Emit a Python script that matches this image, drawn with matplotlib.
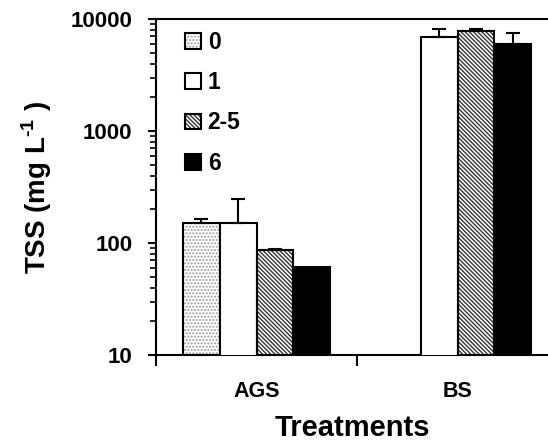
import numpy as np
import matplotlib
matplotlib.use('Agg')
import matplotlib.pyplot as plt
from matplotlib.patches import Patch
from matplotlib.legend_handler import HandlerTuple

plt.rcParams['font.family'] = ['Liberation Sans', 'DejaVu Sans']
plt.rcParams['font.weight'] = 'bold'
plt.rcParams['mathtext.fontset'] = 'custom'
plt.rcParams['mathtext.rm'] = 'Liberation Sans:bold'
plt.rcParams['mathtext.bf'] = 'Liberation Sans:bold'
plt.rcParams['hatch.linewidth'] = 1.0

# data
groups = ['AGS', 'BS']
series = ['0', '1', '2-5', '6']
ags_mean = [152, 152, 86.6, 61.5]
ags_err = [12, 95, 1.5, 0]
bs_mean = [np.nan, 6950, 7870, 5940]
bs_err = [0, 1190, 320, 1610]

means = np.array([ags_mean, bs_mean])
errs = np.array([ags_err, bs_err])

faces = ['white', 'white', 'white', 'black']
hatches = ['.....', None, '\\' * 8, None]
hatch_cols = ['#9a9a9a', 'white', '#333333', 'black']

fig = plt.figure(figsize=(5.48, 4.45), dpi=100)
ax = fig.add_axes([0.2847, 0.2022, 0.7153, 0.7551])

w = 0.1826
x = np.arange(len(groups))
handles = []
for k, s in enumerate(series):
    pos = x + (k - 1.5) * w
    vals = means[:, k]
    if hatches[k]:
        ax.bar(pos, vals, w, color=faces[k], edgecolor=hatch_cols[k],
               hatch=hatches[k], linewidth=0, zorder=2)
    ax.bar(pos, vals, w, facecolor='none' if hatches[k] else faces[k],
           edgecolor='black', linewidth=1.5, zorder=3)
    ok = ~np.isnan(vals) & (errs[:, k] > 0)
    ax.errorbar(pos[ok], vals[ok], yerr=[np.zeros(ok.sum()), errs[ok, k]],
                fmt='none', ecolor='black', elinewidth=1.5, capsize=4.7,
                capthick=1.5, zorder=4)
    h1 = Patch(facecolor=faces[k], edgecolor=hatch_cols[k], hatch=hatches[k], linewidth=0)
    h2 = Patch(facecolor='none', edgecolor='black', linewidth=1.5)
    handles.append((h1, h2))

ax.set_yscale('log')
ax.set_xticks([-0.5, 0.5, 1.5])
ax.set_xticklabels([])
ax.set_xticks(x, minor=True)
ax.set_xticklabels(groups, minor=True, fontsize=15.5, fontweight='bold')
ax.set_ylim(10, 10000)
ax.set_xlim(-0.5, 1.45)
ax.tick_params(axis='x', which='major', direction='out', length=8, width=1.5)
ax.tick_params(axis='x', which='minor', length=0, pad=19)
ax.tick_params(axis='y', which='major', direction='out', length=6, width=1.5,
               labelsize=16, pad=11)
ax.tick_params(axis='y', which='minor', direction='out', length=4.5, width=1.2)
ax.yaxis.set_major_formatter(matplotlib.ticker.FuncFormatter(lambda v, p: '%d' % v))

ax.spines['right'].set_visible(False)
for sp in ['left', 'bottom', 'top']:
    ax.spines[sp].set_linewidth(1.5)

ax.set_ylabel('TSS (mg L$^{\\mathbf{\u2010}\\mathbf{1}}$ )', fontsize=20, fontweight='bold', labelpad=12)
ax.set_xlabel('Treatments', fontsize=21, fontweight='bold', labelpad=8)

ax.legend(handles, series, handler_map={tuple: HandlerTuple(ndivide=1, pad=0)},
          loc='upper left', bbox_to_anchor=(0.074, 0.964), frameon=False,
          borderpad=0, borderaxespad=0, handlelength=0.69, handleheight=0.69,
          labelspacing=0.75, handletextpad=0.3, prop={'size': 16.5, 'weight': 'bold'})

fig.savefig('out.png', dpi=100)
